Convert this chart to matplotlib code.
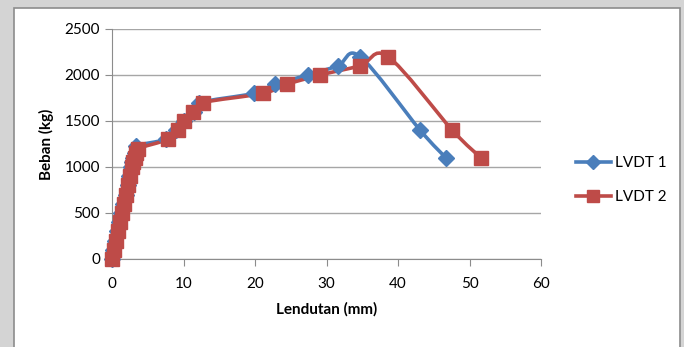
import matplotlib.pyplot as plt
from matplotlib.path import Path
from matplotlib.patches import PathPatch, Rectangle
from matplotlib.lines import Line2D
from matplotlib.transforms import IdentityTransform
import numpy as np

plt.rcParams['font.family'] = ['Lato', 'DejaVu Sans']

# LVDT 1 (biru)
x1 = [0, 0.2, 0.45, 0.7, 1.0, 1.3, 1.6, 1.9, 2.2, 2.4, 2.6, 2.8, 3.0, 3.2, 3.4,
      7.5, 9.0, 10.0, 11.5, 12.2, 19.8, 22.8, 27.4, 31.6, 34.7, 43.1, 46.7]
y1 = [0, 100, 200, 300, 400, 500, 600, 700, 800, 900, 1000, 1050, 1100, 1150, 1230,
      1300, 1400, 1500, 1600, 1700, 1800, 1900, 2000, 2100, 2200, 1400, 1100]

# LVDT 2 (merah)
x2 = [0, 0.3, 0.5, 0.8, 1.1, 1.4, 1.7, 2.0, 2.3, 2.5, 2.8, 3.0, 3.2, 3.4, 3.6,
      7.8, 9.2, 10.0, 11.3, 12.7, 21.1, 24.5, 29.1, 34.7, 38.6, 47.6, 51.6]
y2 = [0, 100, 200, 300, 400, 500, 600, 700, 800, 900, 1000, 1050, 1100, 1150, 1200,
      1300, 1400, 1500, 1600, 1700, 1800, 1900, 2000, 2100, 2200, 1400, 1100]

biru = '#4a7ebb'
merah = '#be4b48'


def kurva_halus(ax, xs, ys, warna):
    # garis halus ala excel (catmull-rom -> bezier), dalam koordinat layar
    pts = ax.transData.transform(np.column_stack([xs, ys]))
    verts = [pts[0]]
    codes = [Path.MOVETO]
    t = 1.0 / 6
    n = len(pts)
    for i in range(n - 1):
        p0 = pts[max(i - 1, 0)]
        p1 = pts[i]
        p2 = pts[i + 1]
        p3 = pts[min(i + 2, n - 1)]
        c1 = p1 + (p2 - p0) * t
        c2 = p2 - (p3 - p1) * t
        verts += [c1, c2, p2]
        codes += [Path.CURVE4] * 3
    path = Path(verts, codes)
    patch = PathPatch(path, facecolor='none', edgecolor=warna, lw=2.6,
                      transform=IdentityTransform(), zorder=3)
    ax.add_artist(patch)


fig = plt.figure(figsize=(6.84, 3.47), dpi=100)
fig.patch.set_facecolor('#d4d4d4')

# kotak putih chart
bg = fig.add_axes([0, 0, 1, 1], zorder=-1)
bg.set_axis_off()
bg.set_xlim(0, 684)
bg.set_ylim(347, 0)
bg.add_patch(Rectangle((14, 8), 666, 345, facecolor='white', edgecolor='#8c8c8c', lw=1.2))

ax = fig.add_axes([112 / 684, 1 - 259 / 347, 429 / 684, 230 / 347], zorder=1)
ax.set_facecolor('none')
ax.set_xlim(0, 60)
ax.set_ylim(0, 2500)
ax.set_xticks(range(0, 61, 10))
ax.set_yticks(range(0, 2501, 500))
ax.grid(axis='y', color='#a6a6a6', lw=1)
ax.set_axisbelow(True)
for s in ['top', 'right']:
    ax.spines[s].set_visible(False)
for s in ['left', 'bottom']:
    ax.spines[s].set_color('#8c8c8c')
ax.tick_params(colors='#8c8c8c', labelcolor='black', labelsize=11, length=5)
ax.tick_params(axis='x', pad=8)
ax.set_xlabel('Lendutan (mm)', fontsize=11, fontweight='bold', labelpad=8)
ax.set_ylabel('Beban (kg)', fontsize=11, fontweight='bold', labelpad=8)

fig.canvas.draw()
kurva_halus(ax, x1, y1, biru)
kurva_halus(ax, x2, y2, merah)
ax.plot(x1, y1, ls='none', marker='D', ms=8, color=biru, zorder=4, clip_on=False)
ax.plot(x2, y2, ls='none', marker='s', ms=10, color=merah, zorder=5, clip_on=False)

h1 = Line2D([], [], color=biru, lw=2.6, marker='D', ms=7)
h2 = Line2D([], [], color=merah, lw=2.6, marker='s', ms=9)
fig.legend([h1, h2], ['LVDT 1', 'LVDT 2'], loc='center left',
           bbox_to_anchor=(562 / 684, 1 - 180 / 347), frameon=False, fontsize=11,
           handlelength=2.3, handletextpad=0.3, labelspacing=1.3)

fig.savefig('out.png', dpi=100)
